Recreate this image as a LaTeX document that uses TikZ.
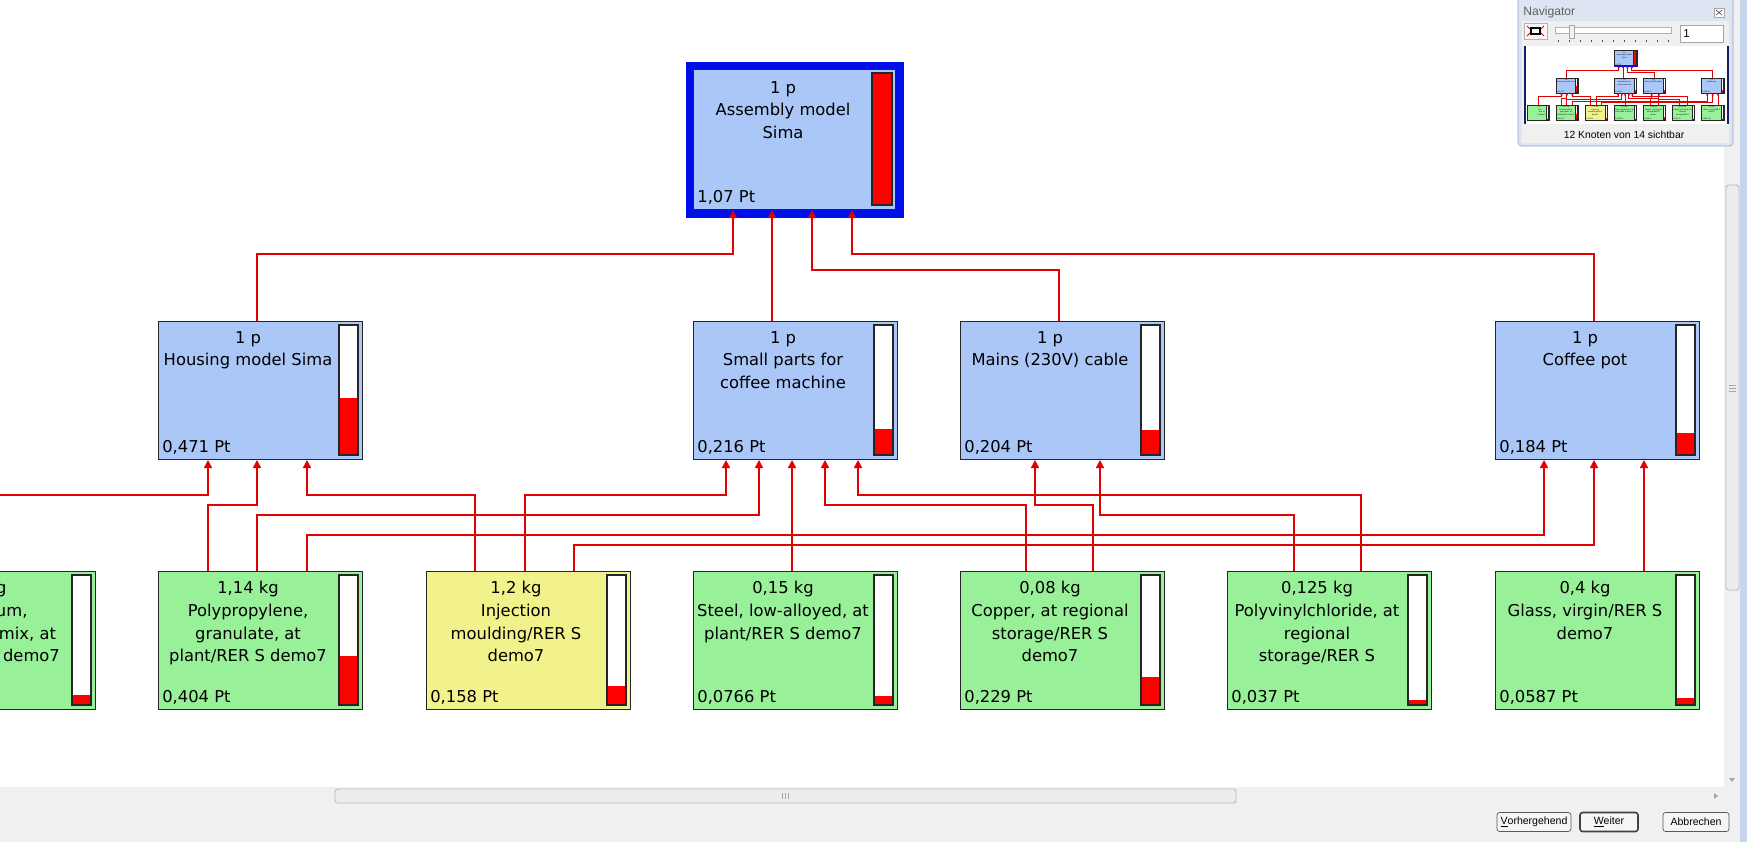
\documentclass[tikz,border=0pt]{standalone}
\usepackage{fontspec}
\setmainfont{DejaVu Sans}
\newfontfamily\uifont{Liberation Sans}
\usetikzlibrary{arrows.meta}

\definecolor{partblue}{RGB}{170,199,247}
\definecolor{inputgreen}{RGB}{152,241,152}
\definecolor{procyellow}{RGB}{242,242,140}
\definecolor{frameblue}{RGB}{0,14,232}
\definecolor{linkred}{RGB}{226,0,0}
\definecolor{barred}{RGB}{255,0,0}
\definecolor{uigray}{RGB}{240,240,240}
\definecolor{edgeblue}{RGB}{196,213,236}
\definecolor{navframe}{RGB}{220,229,241}
\definecolor{navborder}{RGB}{150,168,192}
\definecolor{mapnavy}{RGB}{20,30,110}

\tikzset{
	part/.style      = {draw=black!85, line width=0.6pt, minimum width=4.08cm, minimum height=2.76cm, inner sep=0pt, anchor=north west},
	parttext/.style  = {font=\fontsize{9.3}{12.9}\selectfont, align=center, anchor=north, inner sep=0pt},
	scoretext/.style = {font=\fontsize{9.3}{12.9}\selectfont, anchor=base west, inner sep=0pt},
	barframe/.style  = {draw=black!85, line width=0.6pt},
	link/.style      = {draw=linkred, line width=0.6pt, ->},
	uibutton/.style  = {draw=gray!70!black, fill=gray!8, rounded corners=1.5pt, inner sep=0pt, minimum height=0.38cm, font=\uifont\fontsize{6}{7}\selectfont},
	uitext/.style    = {font=\uifont\fontsize{5.9}{7}\selectfont, inner sep=0pt},
	thumb/.style     = {draw=gray!55, fill=gray!14, rounded corners=1.5pt, line width=0.5pt},
}

\newcommand{\procbox}[7]{%
	\node[part, fill=#4] (#1) at (#2,#3) {};
	\node[parttext]  at ({#2+90},{#3+10})  {#5};
	\node[scoretext] at ({#2+4},{#3+131})  {#6};
	\fill[white]     ({#2+181},{#3+4})   rectangle ({#2+200},{#3+134});
	\fill[barred]    ({#2+181},{#3+134}) rectangle ({#2+200},{#3+134-130*#7});
	\draw[barframe]  ({#2+181},{#3+4})   rectangle ({#2+200},{#3+134});
}

\newcommand{\simatree}{%
	\node[part, fill=frameblue, draw=none, minimum width=4.38cm, minimum height=3.12cm] (asmframe) at (685,61) {};
	\node[part, fill=partblue, minimum width=4.04cm, minimum height=2.8cm]               (asm)      at (693,69) {};
	\node[parttext]  at (783,81)  {1 p\\Assembly model\\Sima};
	\node[scoretext] at (697,202) {1,07 Pt};
	\filldraw[barframe, fill=barred] (872,73) rectangle (892,205);

	\procbox{housing}{158}{321}{partblue}{1 p\\Housing model Sima}{0,471 Pt}{0.44}
	\procbox{small}{693}{321}{partblue}{1 p\\Small parts for\\coffee machine}{0,216 Pt}{0.202}
	\procbox{mains}{960}{321}{partblue}{1 p\\Mains (230V) cable}{0,204 Pt}{0.19}
	\procbox{coffee}{1495}{321}{partblue}{1 p\\Coffee pot}{0,184 Pt}{0.172}

	\procbox{alu}{-109}{571}{inputgreen}{\phantom{0,1 k}g\\\phantom{Alumini}um,\\\phantom{production} mix, at\\\phantom{plant/RER} S demo7}{}{0.077}
	\procbox{pp}{158}{571}{inputgreen}{1,14 kg\\Polypropylene,\\granulate, at\\plant/RER S demo7}{0,404 Pt}{0.378}
	\procbox{inj}{426}{571}{procyellow}{1,2 kg\\Injection\\moulding/RER S\\demo7}{0,158 Pt}{0.148}
	\procbox{steel}{693}{571}{inputgreen}{0,15 kg\\Steel, low-alloyed, at\\plant/RER S demo7}{0,0766 Pt}{0.072}
	\procbox{copper}{960}{571}{inputgreen}{0,08 kg\\Copper, at regional\\storage/RER S\\demo7}{0,229 Pt}{0.214}
	\procbox{pvc}{1227}{571}{inputgreen}{0,125 kg\\Polyvinylchloride, at\\regional\\storage/RER S}{0,037 Pt}{0.035}
	\procbox{glass}{1495}{571}{inputgreen}{0,4 kg\\Glass, virgin/RER S\\demo7}{0,0587 Pt}{0.055}

	\draw[link] (housing.north -| 257,0) |- (733,254)  -- (asm.south -| 733,0);
	\draw[link] (small.north -| 772,0)               -- (asm.south -| 772,0);
	\draw[link] (mains.north -| 1059,0)  |- (812,270)  -- (asm.south -| 812,0);
	\draw[link] (coffee.north -| 1594,0) |- (852,254)  -- (asm.south -| 852,0);

	\draw[link] (alu.north -| -8,0)      |- (208,495)  -- (housing.south -| 208,0);
	\draw[link] (pp.north -| 208,0)      |- (257,505)  -- (housing.south -| 257,0);
	\draw[link] (pp.north -| 257,0)      |- (759,515)  -- (small.south -| 759,0);
	\draw[link] (pp.north -| 307,0)      |- (1544,535) -- (coffee.south -| 1544,0);
	\draw[link] (inj.north -| 475,0)     |- (307,495)  -- (housing.south -| 307,0);
	\draw[link] (inj.north -| 525,0)     |- (726,495)  -- (small.south -| 726,0);
	\draw[link] (inj.north -| 574,0)     |- (1594,545) -- (coffee.south -| 1594,0);
	\draw[link] (steel.north -| 792,0)               -- (small.south -| 792,0);
	\draw[link] (copper.north -| 1026,0) |- (825,505)  -- (small.south -| 825,0);
	\draw[link] (copper.north -| 1093,0) |- (1035,505) -- (mains.south -| 1035,0);
	\draw[link] (pvc.north -| 1361,0)    |- (858,495)  -- (small.south -| 858,0);
	\draw[link] (pvc.north -| 1294,0)    |- (1100,515) -- (mains.south -| 1100,0);
	\draw[link] (glass.north -| 1644,0)              -- (coffee.south -| 1644,0);
}

\begin{document}
\begin{tikzpicture}[x=0.02cm, y=-0.02cm, >={Triangle[length=4.6pt,width=4.7pt]}]

	\useasboundingbox (0,0) rectangle (1747,842);
	\fill[white] (0,0) rectangle (1747,842);

	\begin{scope}
		\clip (0,0) rectangle (1724,787);
		\simatree
	\end{scope}

	\fill[uigray] (1724,0) rectangle (1740,787);
	\fill[uigray] (0,787)  rectangle (1740,842);
	\draw[thumb] (1726,185) rectangle (1739,590);
	\foreach \y in {385,388,391} \draw[gray!70, line width=0.4pt] (1729,\y) -- (1736,\y);
	\draw[thumb] (335,789) rectangle (1236,803);
	\foreach \x in {782,785,788} \draw[gray!70, line width=0.4pt] (\x,793) -- (\x,799);
	\fill[gray!70] (1729,778) -- (1735,778) -- (1732,782) -- cycle;
	\fill[gray!70] (1714,793) -- (1718,796) -- (1714,799) -- cycle;

	\node[uibutton, minimum width=1.48cm]                         (back)   at (1534,822) {\underline{V}orhergehend};
	\node[uibutton, minimum width=1.16cm, draw=black!75, line width=0.9pt] (next)   at (1609,822) {\underline{W}eiter};
	\node[uibutton, minimum width=1.32cm]                         (cancel) at (1696,822) {Abbrechen};
	\fill[edgeblue] (1740,0) rectangle (1747,842);

	\draw[navborder, fill=navframe, rounded corners=2pt] (1518,-4) rectangle (1733,146);
	\node[uitext, font=\uifont\fontsize{6.9}{8}\selectfont, text=gray!75!black, anchor=west] (navtitle) at (1523,12) {Navigator};
	\draw[gray!70, fill=white] (1714,8) rectangle (1724,17);
	\draw[gray!70!black, line width=0.4pt] (1716,10) -- (1722,15) (1716,15) -- (1722,10);
	\fill[uigray] (1522,21) rectangle (1729,143);

	\draw[gray!60, fill=white!95!gray] (1524,23) rectangle (1547,39);
	\draw[black, line width=0.6pt] (1531,28) rectangle (1540,34);
	\draw[red, line width=0.5pt] (1527,26) -- (1530,29) (1544,26) -- (1541,29) (1527,36) -- (1530,33) (1544,36) -- (1541,33);

	\draw[gray!60, fill=white] (1555,27) rectangle (1671,33);
	\draw[gray!70, fill=gray!10] (1569,25) rectangle (1574,38);
	\foreach \x in {1558,1569,...,1668} \draw[black!70, line width=0.5pt] (\x,40) -- (\x,42);
	\draw[gray!70, fill=white] (1680,25) rectangle (1723,42);
	\node[uitext, font=\uifont\fontsize{6.5}{8}\selectfont, anchor=west] (zoomfield) at (1683,33.5) {1};

	\fill[white] (1525,46) rectangle (1728,124);
	\begin{scope}
		\clip (1525,46) rectangle (1728,124);
		\begin{scope}[shift={(1538.9,43)}, scale=0.109, transform shape, >={Triangle[length=1.3pt,width=1.3pt]}]
			\simatree
		\end{scope}
	\end{scope}
	\draw[mapnavy, line width=0.6pt] (1525,46) -- (1525,124) (1728,46) -- (1728,124);
	\node[uitext] (navcount) at (1624,135) {12 Knoten von 14 sichtbar};

\end{tikzpicture}
\end{document}
